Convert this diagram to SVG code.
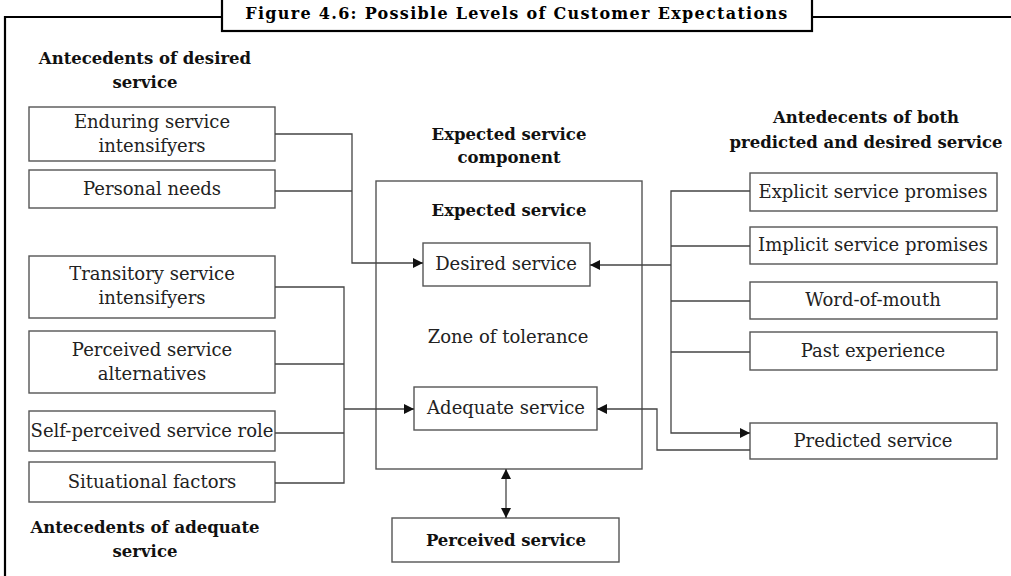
<svg xmlns="http://www.w3.org/2000/svg" width="1011" height="576" viewBox="0 0 1011 576">
<style>
.bx{fill:#fff;stroke:#555;stroke-width:1.4}
.t{font-family:"DejaVu Serif",serif;font-size:18px;fill:#222;text-anchor:middle}
.b{font-family:"DejaVu Serif",serif;font-size:16.5px;font-weight:bold;fill:#111;text-anchor:middle}
.ti{font-family:"DejaVu Serif",serif;font-size:16px;font-weight:bold;fill:#000;text-anchor:middle;letter-spacing:1.3px}
.c{fill:none;stroke:#444;stroke-width:1.3}
.fr{fill:none;stroke:#000;stroke-width:2.2}
</style>
<defs>
<marker id="ah" viewBox="0 0 10 10" refX="10" refY="5" markerWidth="10" markerHeight="10" markerUnits="userSpaceOnUse" orient="auto-start-reverse">
<path d="M0,0 L10,5 L0,10 Z" fill="#111"/>
</marker>
</defs>
<rect width="1011" height="576" fill="#fff"/>
<g id="frame">
<path class="fr" d="M5,576 V17 H222 M812,17 H1011"/>
<rect x="222" y="-5" width="590" height="36" fill="#fff" stroke="#000" stroke-width="2.2"/>
<text x="517" y="19" class="ti">Figure 4.6: Possible Levels of Customer Expectations</text>
</g>
<g id="labels">
<text x="145" y="64" class="b">Antecedents of desired</text>
<text x="145" y="88" class="b">service</text>
<text x="145" y="533" class="b">Antecedents of adequate</text>
<text x="145" y="557" class="b">service</text>
<text x="509" y="140" class="b">Expected service</text>
<text x="509" y="163" class="b">component</text>
<text x="866" y="123" class="b">Antedecents of both</text>
<text x="866" y="148" class="b">predicted and desired service</text>
</g>
<g id="component">
<rect x="376" y="181" width="266" height="288" class="bx"/>
<text x="509" y="216" class="b">Expected service</text>
<text x="508" y="343" class="t">Zone of tolerance</text>
</g>
<g id="n-enduring"><rect x="29" y="107" width="246" height="54" class="bx"/><text x="152" y="128" class="t">Enduring service</text><text x="152" y="152" class="t">intensifyers</text></g>
<g id="n-personal"><rect x="29" y="170" width="246" height="38" class="bx"/><text x="152" y="195" class="t">Personal needs</text></g>
<g id="n-transitory"><rect x="29" y="256" width="246" height="62" class="bx"/><text x="152" y="280" class="t">Transitory service</text><text x="152" y="304" class="t">intensifyers</text></g>
<g id="n-alternatives"><rect x="29" y="331" width="246" height="62" class="bx"/><text x="152" y="356" class="t">Perceived service</text><text x="152" y="380" class="t">alternatives</text></g>
<g id="n-role"><rect x="29" y="411" width="246" height="40" class="bx"/><text x="152" y="437" class="t">Self-perceived service role</text></g>
<g id="n-situational"><rect x="29" y="462" width="246" height="40" class="bx"/><text x="152" y="488" class="t">Situational factors</text></g>
<g id="n-explicit"><rect x="750" y="173" width="247" height="38" class="bx"/><text x="873" y="198" class="t">Explicit service promises</text></g>
<g id="n-implicit"><rect x="750" y="227" width="247" height="37" class="bx"/><text x="873" y="251" class="t">Implicit service promises</text></g>
<g id="n-wom"><rect x="750" y="282" width="247" height="37" class="bx"/><text x="873" y="306" class="t">Word-of-mouth</text></g>
<g id="n-past"><rect x="750" y="332" width="247" height="38" class="bx"/><text x="873" y="357" class="t">Past experience</text></g>
<g id="n-predicted"><rect x="750" y="423" width="247" height="36" class="bx"/><text x="873" y="447" class="t">Predicted service</text></g>
<g id="n-desired"><rect x="423" y="243" width="167" height="43" class="bx"/><text x="506" y="270" class="t">Desired service</text></g>
<g id="n-adequate"><rect x="414" y="387" width="183" height="43" class="bx"/><text x="506" y="414" class="t">Adequate service</text></g>
<g id="n-perceived"><rect x="392" y="518" width="227" height="44" class="bx"/><text x="506" y="546" class="b">Perceived service</text></g>
<g id="connectors">
<path class="c" d="M275,134 H352 V263 H423" marker-end="url(#ah)"/>
<path class="c" d="M275,191 H352"/>
<path class="c" d="M275,287 H344 V483 H275"/>
<path class="c" d="M275,364 H344"/>
<path class="c" d="M275,433 H344"/>
<path class="c" d="M344,409 H414" marker-end="url(#ah)"/>
<path class="c" d="M750,191 H671 V433 H750" marker-end="url(#ah)"/>
<path class="c" d="M750,246 H671"/>
<path class="c" d="M750,301 H671"/>
<path class="c" d="M750,352 H671"/>
<path class="c" d="M671,265 H590" marker-end="url(#ah)"/>
<path class="c" d="M750,450 H657 V409 H597" marker-end="url(#ah)"/>
<path class="c" d="M506,469 V518" marker-start="url(#ah)" marker-end="url(#ah)"/>
</g>
</svg>
